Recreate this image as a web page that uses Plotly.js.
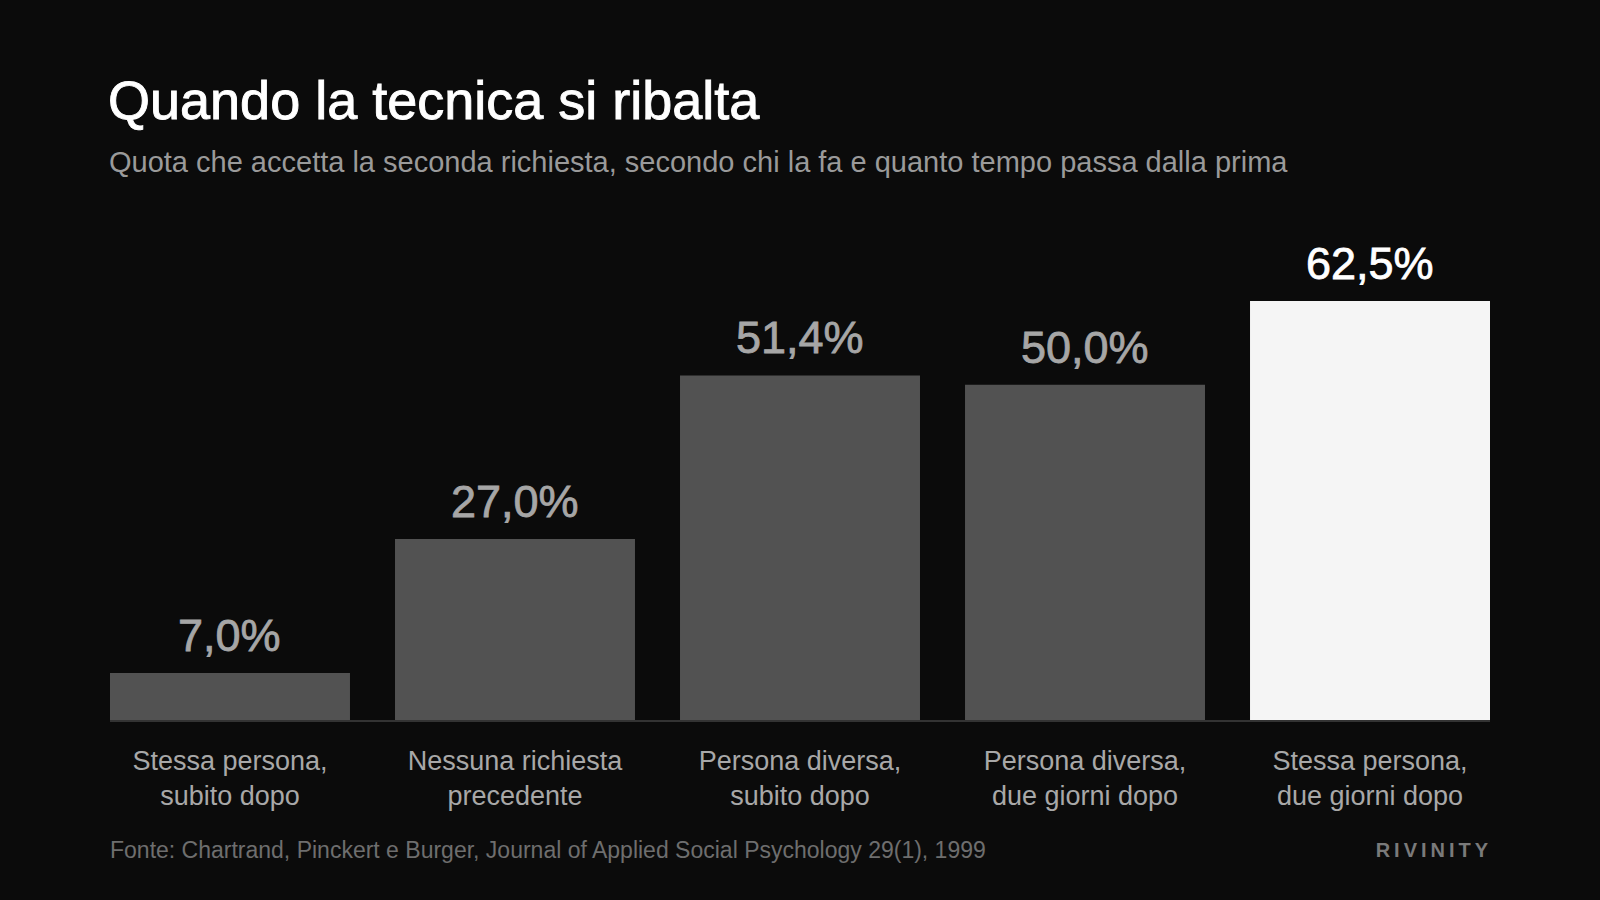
<!DOCTYPE html>
<html>
<head>
<meta charset="utf-8">
<script src="https://cdn.plot.ly/plotly-3.0.1.min.js"></script>
<style>
  html, body { margin: 0; padding: 0; background: #0b0b0b; }
  #chart { width: 1600px; height: 900px; }
</style>
</head>
<body>
<div id="chart"></div>
<script>
// ---- data ----
const categories = [
  "Stessa persona,<br>subito dopo",
  "Nessuna richiesta<br>precedente",
  "Persona diversa,<br>subito dopo",
  "Persona diversa,<br>due giorni dopo",
  "Stessa persona,<br>due giorni dopo"
];
const values = [7.0, 27.0, 51.4, 50.0, 62.5];
const titleText = "Quando la tecnica si ribalta";
const subtitleText = "Quota che accetta la seconda richiesta, secondo chi la fa e quanto tempo passa dalla prima";
const sourceText = "Fonte: Chartrand, Pinckert e Burger, Journal of Applied Social Psychology 29(1), 1999";
const brandText = "RIVINITY";

// ---- styles ----
const FONT = "'Liberation Sans', Arial, Helvetica, sans-serif";
const BG = "#0b0b0b";
const BAR_GRAY = "#525252";
const BAR_HI = "#f5f5f5";
const LABEL_GRAY = "#a6a6a6";
const LABEL_HI = "#ffffff";

const maxVal = Math.max(...values);
const barColors = values.map(v => v === maxVal ? BAR_HI : BAR_GRAY);
const labelColors = values.map(v => v === maxVal ? LABEL_HI : LABEL_GRAY);
const fmt = v => v.toFixed(1).replace('.', ',') + '%';

const trace = {
  type: 'bar',
  x: categories,
  y: values,
  marker: { color: barColors, line: { width: 0 } },
  hoverinfo: 'skip'
};

const valueAnnotations = values.map((v, i) => ({
  x: categories[i], y: v, xref: 'x', yref: 'y',
  text: fmt(v), showarrow: false,
  xanchor: 'center', yanchor: 'bottom', yshift: 10,
  font: { family: FONT, size: 45, color: labelColors[i] }
}));

const plotTop = 230, plotBottom = 720;
const py = px => (plotBottom - px) / (plotBottom - plotTop);

const layout = {
  width: 1600, height: 900,
  paper_bgcolor: BG, plot_bgcolor: BG,
  margin: { l: 110, r: 110, t: plotTop, b: 900 - plotBottom, pad: 0 },
  showlegend: false,
  bargap: 0.158,
  font: { family: FONT, color: LABEL_GRAY },
  title: {
    text: titleText,
    xref: 'container', yref: 'container',
    x: 108 / 1600, xanchor: 'left',
    y: 1 - 100 / 900, yanchor: 'middle',
    font: { family: FONT, size: 54, color: '#ffffff' }
  },
  xaxis: {
    type: 'category',
    range: [-0.421, 4.421],
    showline: true, linecolor: '#333333', linewidth: 1.5,
    showgrid: false, zeroline: false,
    ticks: '', ticklabelstandoff: 16,
    tickfont: { family: FONT, size: 27, color: '#a8a8a8' },
    fixedrange: true
  },
  yaxis: {
    range: [0, 73.1],
    visible: false, showgrid: false, zeroline: false,
    fixedrange: true
  },
  annotations: [
    ...valueAnnotations,
    {
      xref: 'paper', yref: 'paper', x: 0, xshift: -3, y: py(162), yanchor: 'middle', xanchor: 'left',
      text: subtitleText, showarrow: false,
      font: { family: FONT, size: 29, color: '#9a9a9a' }
    },
    {
      xref: 'paper', yref: 'paper', x: 0, xshift: -2, y: py(850), yanchor: 'middle', xanchor: 'left',
      text: sourceText, showarrow: false,
      font: { family: FONT, size: 23, color: '#6e6e6e' }
    },
    {
      xref: 'paper', yref: 'paper', x: 1, xshift: 0, y: py(850), yanchor: 'middle', xanchor: 'right',
      text: '<b>' + brandText + '</b>', showarrow: false,
      font: { family: FONT, size: 20, color: '#7a7a7a' }
    }
  ]
};

Plotly.newPlot('chart', [trace], layout, { displayModeBar: false, staticPlot: true }).then(() => {
  // letter-spacing for the brand mark, keeping its right edge in place
  document.querySelectorAll('#chart .annotation-text').forEach(t => {
    const txt = t.textContent;
    if (txt === brandText) {
      const before = t.getBBox();
      const right = before.x + before.width;
      t.style.letterSpacing = '4px';
      const after = t.getBBox();
      const dx = right - (after.x + after.width) + 4;
      t.setAttribute('transform', 'translate(' + dx + ',0)');
    } else if (/%$/.test(txt)) {
      // medium weight look
      t.style.stroke = t.style.fill || window.getComputedStyle(t).fill;
      t.style.strokeWidth = '0.8px';
    }
  });
  const gt = document.querySelector('#chart .gtitle');
  if (gt) { gt.style.stroke = '#ffffff'; gt.style.strokeWidth = '0.9px'; }
});
</script>
</body>
</html>
